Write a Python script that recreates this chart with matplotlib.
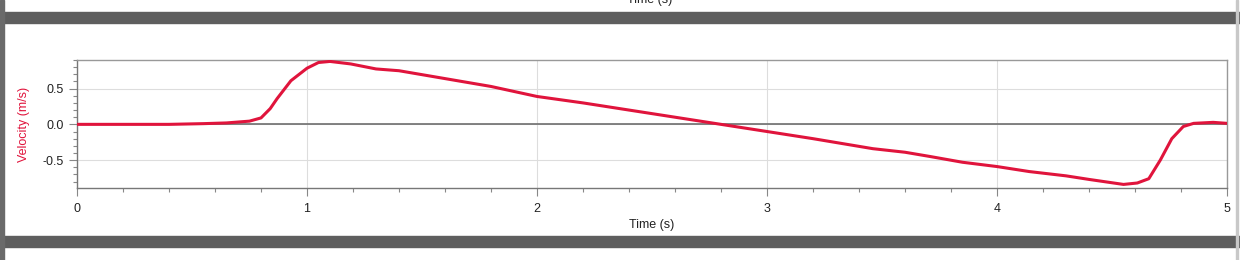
import numpy as np
import matplotlib.pyplot as plt
from matplotlib.patches import Rectangle
from matplotlib.ticker import MultipleLocator

plt.rcParams['font.family'] = ['Liberation Sans', 'DejaVu Sans']

# Velocity readings
time_s = [0.0, 0.2, 0.4, 0.55, 0.65, 0.75, 0.80, 0.84, 0.87, 0.93, 1.00, 1.05, 1.10,
          1.19, 1.30, 1.40, 1.60, 1.80, 2.00, 2.20, 2.40, 2.60, 2.80, 3.00, 3.20,
          3.46, 3.60, 3.71, 3.85, 4.00, 4.14, 4.30, 4.40, 4.55, 4.61, 4.66, 4.71,
          4.76, 4.81, 4.855, 4.94, 5.00]
velocity = [0.0, 0.0, 0.0, 0.01, 0.02, 0.045, 0.09, 0.22, 0.36, 0.61, 0.785, 0.865, 0.88,
            0.845, 0.775, 0.75, 0.64, 0.53, 0.39, 0.30, 0.20, 0.10, 0.0, -0.10, -0.20,
            -0.34, -0.39, -0.45, -0.53, -0.59, -0.66, -0.72, -0.77, -0.84, -0.82, -0.76, -0.50,
            -0.20, -0.03, 0.014, 0.028, 0.014]
x_ticks = [0, 1, 2, 3, 4, 5]
y_ticks = [-0.5, 0.0, 0.5]

line_red = '#e0143c'
W, H = 1240, 260

fig = plt.figure(figsize=(W / 100, H / 100), dpi=100)
fig.patch.set_facecolor('white')

# screenshot frame: dark bands and left strip
def band(x0, y0, w, h, color):
    fig.patches.append(Rectangle((x0 / W, 1 - (y0 + h) / H), w / W, h / H,
                                 transform=fig.transFigure, color=color, zorder=0))

band(0, 12, W, 11, '#5e5e5e')
band(0, 236, W, 11, '#5e5e5e')
band(0, 0, 4, H, '#6a6a6a')
band(1236, 0, 2, H, '#c8c8c8')
# axis title of the panel above, cut off by the screenshot edge
fig.text(650 / W, 1 - 0 / H, 'Time (s)', ha='center', va='center', fontsize=9, color='#222222')

ax = fig.add_axes([77 / W, 1 - 188 / H, 1150 / W, 128 / H])
ax.plot(time_s, velocity, color=line_red, lw=2.2, zorder=3, solid_capstyle='round')
ax.axhline(0, color='#6e6e6e', lw=1.2, zorder=2)

ax.set_xlim(0, 5)
ax.set_ylim(-0.89, 0.90)
ax.set_xticks(x_ticks)
ax.set_yticks(y_ticks)
ax.set_yticklabels(['-0.5', '0.0', '0.5'])
ax.xaxis.set_minor_locator(MultipleLocator(0.2))
ax.yaxis.set_minor_locator(MultipleLocator(0.1))
ax.grid(True, which='major', color='#dddddd', lw=0.8)
ax.set_axisbelow(True)

ax.tick_params(axis='both', which='major', direction='out', length=6, width=0.8,
               color='#888888', labelsize=9, labelcolor='#222222')
ax.tick_params(axis='both', which='minor', direction='out', length=3, width=0.8,
               color='#888888')
ax.tick_params(axis='x', pad=5)
for s in ax.spines.values():
    s.set_color('#999999')
    s.set_linewidth(1.0)
ax.spines['left'].set_color('#777777')
ax.spines['bottom'].set_color('#777777')

ax.set_xlabel('Time (s)', fontsize=9, color='#222222', labelpad=3)
ax.set_ylabel('Velocity (m/s)', fontsize=9, color=line_red, labelpad=9)

fig.savefig('out.png', dpi=100)
